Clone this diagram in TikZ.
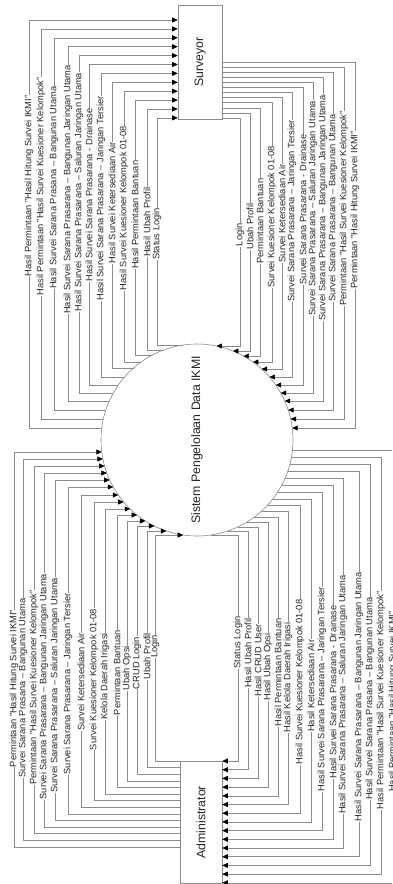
\documentclass[tikz,border=0pt]{standalone}
\usepackage{fontspec}
\usepackage{graphicx}
\setmainfont{Liberation Sans}
\usetikzlibrary{arrows.meta}
\tikzset{
  dfdline/.style={line width=0.6pt,draw=black!45},
  dfdflow/.style={dfdline,-{Triangle[length=5.5pt,width=5pt,color=black]}},
  dfdlabel/.style={rotate=90,fill=white,inner sep=0.4pt,text=black!85,font=\fontsize{9.3}{10}\selectfont},
  dfdbox/.style={dfdline,fill=white,inner sep=0pt,text=black!85,font=\fontsize{12.3}{14}\selectfont}
}

\begin{document}
\begin{tikzpicture}[x=1pt,y=-1pt]
\useasboundingbox (0,0) rectangle (392,884);
\clip (0,0) rectangle (392,884);

\node[dfdbox,rectangle,minimum width=44pt,minimum height=114pt] (surveyor) at (200,62) {\rotatebox{90}{Surveyor}};
\node[dfdbox,rectangle,minimum width=42pt,minimum height=122.5pt] (admin) at (201,822.25) {\rotatebox{90}{Administrator}};
\node[dfdbox,circle,minimum size=192pt] (sistem) at (197,440) {\rotatebox{90}{Sistem Pengelolaan Data IKMI}};

% sistem -> surveyor
\foreach \xv/\yb/\yc/\txt in {
  29/20/428/Hasil Permintaan "Hasil Hitung Survei IKMI",
  41/28.9/419/Hasil Permintaan "Hasil Survei Kuesioner Kelompok",
  54/37.8/410/Hasil Survei Sarana Prasana – Bangunan Utama,
  68/46.7/401/Hasil Survei Sarana Prasarana – Bangunan Jaringan Utama,
  79/55.6/393/Hasil Survei Sarana Prasarana – Saluran Jaringan Utama,
  89/64.5/385/Hasil Survei Sarana Prasarana - Drainase,
  101/73.4/377/Hasil Survei Sarana Prasarana – Jaringan Tersier,
  112/82.3/368/Hasil Survei Ketersediaan Air,
  124/91.2/362/Hasil Survei Kuesioner Kelompok 01-08,
  135/100.1/355/Hasil Permintaan Bantuan,
  147/109/350/Hasil Ubah Profil,
  157/117.9/345/Status Login}{
  \pgfmathsetmacro\xc{197-sqrt(9216-(\yc-440)^2)}
  \pgfmathsetmacro\ym{(\yb+\yc)/2+(abs(\xv-\xc)-abs(\xv-178))/2}
  \draw[dfdflow] (\xc,\yc) -| (\xv,\yb) -- (surveyor.west |- 0,\yb);
  \node[dfdlabel] at (\xv,\ym) {\txt};
}

% surveyor -> sistem
\foreach \xv/\ys/\yc/\txt in {
  240/118/346/Login,
  250/112.9/351/Ubah Profil,
  260/107.8/356/Permintaan Bantuan,
  272/102.7/362/Survei Kuesioner Kelompok 01-08,
  282/97.6/369/Survei Ketersediaan Air,
  292/92.5/377/Survei Sarana Prasarana – Jaringan Tersier,
  303/87.5/385/Survei Sarana Prasarana - Drainase,
  313/82.4/393/Survei Sarana Prasarana – Saluran Jaringan Utama,
  323/77.3/401/Survei Sarana Prasarana – Bangunan Jaringan Utama,
  333/72.2/410/Survei Sarana Prasarana – Bangunan Utama,
  344/67.1/419/Permintaan "Hasil Survei Kuesioner Kelompok",
  355/62/428/Permintaan "Hasil Hitung Survei IKMI"}{
  \pgfmathsetmacro\xc{197+sqrt(9216-(\yc-440)^2)}
  \pgfmathsetmacro\ym{(\ys+\yc)/2+(abs(\xv-\xc)-abs(\xv-222))/2}
  \draw[dfdflow] (surveyor.east |- 0,\ys) -| (\xv,\yc) -- (\xc,\yc);
  \node[dfdlabel] at (\xv,\ym) {\txt};
}

% admin -> sistem
\foreach \xv/\ys/\yc/\txt in {
  155/761/535/Login,
  147/767.6/531/Ubah Profil,
  137/774.2/526/CRUD Login,
  127/780.8/521/Ubah Opsi,
  117/787.4/515/Permintaan Bantuan,
  105/794/509/Kelola Daerah Irigasi,
  94/800.6/502/Survei Kuesioner Kelompok 01-08,
  81/807.2/495/Survei Ketersediaan Air,
  68/813.8/487/Survei Sarana Prasarana – Jaringan Tersier,
  55/820.4/480/Survei Sarana Prasarana – Saluran Jaringan Utama,
  44/827/473/Survei Sarana Prasarana – Bangunan Jaringan Utama,
  34/833.6/466/Permintaan "Hasil Survei Kuesioner Kelompok",
  23/840.2/459/Survei Sarana Prasana – Bangunan Utama,
  14/846.8/452/Permintaan "Hasil Hitung Survei IKMI"}{
  \pgfmathsetmacro\xc{197-sqrt(9216-(\yc-440)^2)}
  \pgfmathsetmacro\ym{(\yc+\ys)/2+(abs(\xv-180)-abs(\xv-\xc))/2}
  \draw[dfdflow] (admin.west |- 0,\ys) -| (\xv,\yc) -- (\xc,\yc);
  \node[dfdlabel] at (\xv,\ym) {\txt};
}

% sistem -> admin
\foreach \xv/\ys/\yc/\txt in {
  238/761/535/Status Login,
  248/769.7/531/Hasil Ubah Profil,
  258/778.4/527/Hasil CRUD User,
  268/787.1/522/Hasil Ubah Opsi,
  278/795.8/517/Hasil Permintaan Bantuan,
  288/804.5/511/Hasil Kelola Daerah Irigasi,
  300/813.2/505/Hasil Survei Kuesioner Kelompok 01-08,
  311/821.9/499/Hasil Ketersediaan Air,
  322/830.6/492/Hasil Survei Sarana Prasarana – Jaringan Tersier,
  333/839.3/485/Hasil Survei Sarana Prasarana - Drainase,
  343/848/478/Hasil Survei Sarana Prasarana – Saluran Jaringan Utama,
  359/856.7/471/Hasil Survei Sarana Prasarana – Bangunan Jaringan Utama,
  370/865.4/464/Hasil Survei Sarana Prasana – Bangunan Utama,
  381/874.1/457/Hasil Permintaan "Hasil Survei Kuesioner Kelompok",
  393/882.8/450/Hasil Permintaan "Hasil Hitung Survei IKMI"}{
  \pgfmathsetmacro\xc{197+sqrt(9216-(\yc-440)^2)}
  \pgfmathsetmacro\ym{(\yc+\ys)/2+(abs(\xv-222)-abs(\xv-\xc))/2}
  \draw[dfdflow] (\xc,\yc) -| (\xv,\ys) -- (admin.east |- 0,\ys);
  \node[dfdlabel] at (\xv,\ym) {\txt};
}
\end{tikzpicture}
\end{document}
